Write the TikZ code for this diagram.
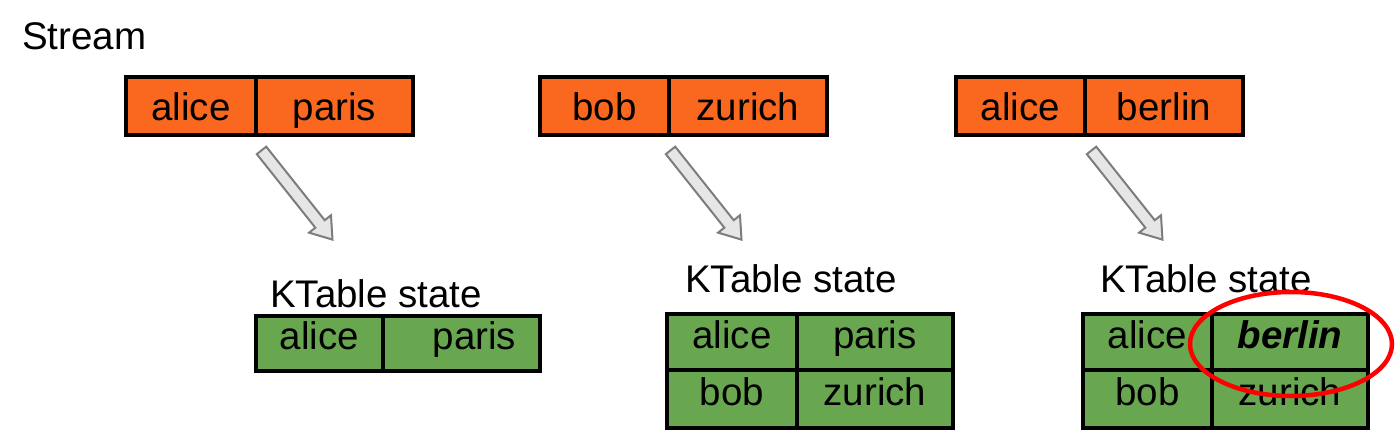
\documentclass[tikz,border=0pt]{standalone}
\usepackage{fontspec}
\setmainfont{Liberation Sans}
\usetikzlibrary{positioning}

\definecolor{streamorange}{RGB}{250,103,30}
\definecolor{tablegreen}{RGB}{104,167,80}
\definecolor{arrowgray}{RGB}{230,230,230}
\definecolor{arrowline}{RGB}{125,125,125}

\begin{document}
\begin{tikzpicture}[
    x=1pt, y=-1pt,
    every node/.style={font=\fontsize{38.5}{42}\selectfont},
    cell/.style={
        rectangle,
        draw=black,
        line width=3.5pt,
        inner sep=0pt,
        outer sep=0pt,
        text centered
    },
    streamcell/.style={cell, fill=streamorange, minimum height=58pt,
        text height=37pt, text depth=8pt},
    tablecell/.style={cell, fill=tablegreen, minimum height=56pt,
        text height=27pt, text depth=15pt},
    caption/.style={anchor=base west, inner sep=0pt},
    bigarrow/.pic={
        \draw[fill=arrowgray, draw=arrowline, line width=2pt, line join=miter]
            (-57,-6) -- (37,-6) -- (37,-14) -- (57,0) -- (37,14) -- (37,6) -- (-57,6) -- cycle;
    }
]
\useasboundingbox (0,0) rectangle (1397,438);

% --- stream records ---
\node (stream) [caption] at (22,50) {Stream};
\node (s1k) [streamcell, minimum width=130pt] at (191,106) {alice};
\node (s1v) [streamcell, minimum width=157pt, right=0pt of s1k] {paris};
\node (s2k) [streamcell, minimum width=129pt] at (604.5,106) {bob};
\node (s2v) [streamcell, minimum width=158pt, right=0pt of s2k] {zurich};
\node (s3k) [streamcell, minimum width=129pt] at (1020.5,106) {alice};
\node (s3v) [streamcell, minimum width=158pt, right=0pt of s3k] {berlin};

% --- ktable states ---
\node (t1k) [tablecell, minimum width=127pt, minimum height=55pt] at (319.5,343.5) {alice};
\node (t1v) [tablecell, minimum width=157pt, minimum height=55pt, right=0pt of t1k] {\hspace{26pt}paris};
\node (t1cap) [above right=8pt and 14pt of t1k.north west, caption] {KTable state};

\node (t2a) [tablecell, minimum width=130pt] at (732,342) {alice};
\node (t2b) [tablecell, minimum width=156pt, right=0pt of t2a] {paris};
\node (t2c) [tablecell, minimum width=130pt, minimum height=58pt, below=0pt of t2a] {bob};
\node (t2d) [tablecell, minimum width=156pt, minimum height=58pt, right=0pt of t2c] {zurich};
\node (t2cap) [above right=21pt and 18pt of t2a.north west, caption] {KTable state};

\node (t3a) [tablecell, minimum width=129pt] at (1147.5,342) {alice};
\node (t3b) [tablecell, minimum width=156pt, right=0pt of t3a] {\textbf{\textit{berlin}}};
\node (t3c) [tablecell, minimum width=129pt, minimum height=58pt, below=0pt of t3a] {bob};
\node (t3d) [tablecell, minimum width=156pt, minimum height=58pt, right=0pt of t3c] {zurich};
\node (t3cap) [above right=21pt and 17pt of t3a.north west, caption] {KTable state};

% --- update arrows ---
\pic[rotate=-51.5] at (297,195) {bigarrow};
\pic[rotate=-51.5] at (706,195) {bigarrow};
\pic[rotate=-51.5] at (1127,195) {bigarrow};

% --- highlight ---
\draw[red, line width=4.5pt] (1291,344) ellipse [x radius=101, y radius=52];

\end{tikzpicture}
\end{document}
